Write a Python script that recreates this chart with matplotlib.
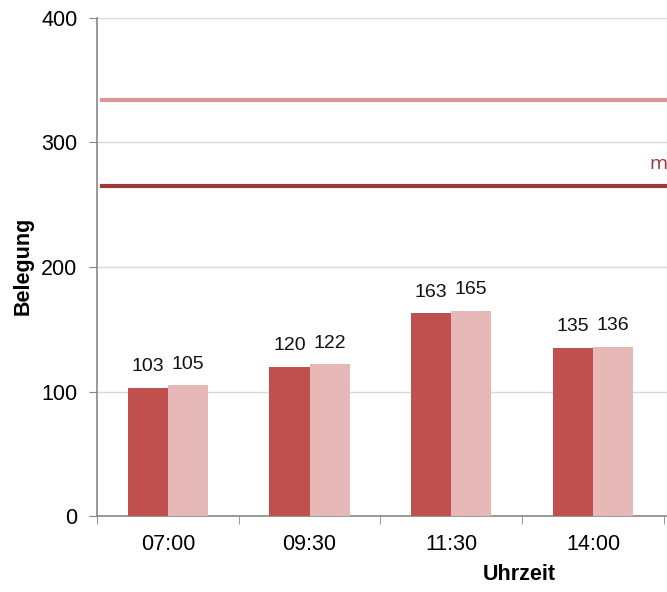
import matplotlib
matplotlib.use('Agg')
import matplotlib.pyplot as plt
import numpy as np

plt.rcParams['font.family'] = ['Liberation Sans', 'DejaVu Sans']

# Data
zeiten = ['07:00', '09:30', '11:30', '14:00']
serie_a = [103, 120, 163, 135]
serie_b = [105, 122, 165, 136]
linie_oben = 334
linie_unten = 265
linie_text = 'max'

dunkel = '#C0504D'
hell = '#E6B9B8'
linie_hell = '#DA9694'
linie_dunkel = '#983A38'
achse = '#878787'

W, H = 667, 592
fig = plt.figure(figsize=(W / 100, H / 100), dpi=100)
# axes runs past the right edge of the picture (last category is cut off)
ax = fig.add_axes([97 / W, (H - 516) / H, 708.5 / W, 498 / H])

x = np.arange(len(zeiten))
bw = 0.283
ax.bar(x - bw / 2, serie_a, bw, color=dunkel, zorder=3)
ax.bar(x + bw / 2, serie_b, bw, color=hell, zorder=3)

for xi, a, b in zip(x, serie_a, serie_b):
    ax.annotate(str(a), (xi - bw / 2, a), xytext=(0, 9), textcoords='offset points',
                ha='center', va='bottom', fontsize=14, color='#111111')
    ax.annotate(str(b), (xi + bw / 2, b), xytext=(0, 9), textcoords='offset points',
                ha='center', va='bottom', fontsize=14, color='#111111')

ax.axhline(linie_oben, xmin=0.007, color=linie_hell, lw=3, zorder=4)
ax.axhline(linie_unten, xmin=0.007, color=linie_dunkel, lw=3, zorder=4)
ax.text(3.40, 283, linie_text, color=linie_dunkel, fontsize=14, family='Open Sans',
        va='center', ha='left')

ax.set_xlim(-0.5, 4.5)
ax.set_ylim(0, 400)
ax.set_yticks([0, 100, 200, 300, 400])
ax.yaxis.grid(True, color='#D9D9D9', lw=1, zorder=0)

ax.set_xticks(x)
ax.set_xticklabels(zeiten)
ax.set_xticks(np.arange(-0.5, 5.0, 1.0), minor=True)
ax.tick_params(axis='x', which='major', length=0, pad=13, labelsize=15.5)
ax.tick_params(axis='x', which='minor', length=6, color=achse, direction='out')
ax.tick_params(axis='y', length=6, color=achse, labelsize=15.5, pad=8)

for s in ['top', 'right']:
    ax.spines[s].set_visible(False)
for s in ['left', 'bottom']:
    ax.spines[s].set_color(achse)
    ax.spines[s].set_linewidth(1.2)

fig.text(519 / W, 1 - 575 / H, 'Uhrzeit', fontsize=15.5, fontweight='bold', ha='center', va='center')
fig.text(23 / W, 1 - 266 / H, 'Belegung', fontsize=15.5, fontweight='bold', rotation=90,
         ha='center', va='center')

fig.savefig('out.png', dpi=100)
